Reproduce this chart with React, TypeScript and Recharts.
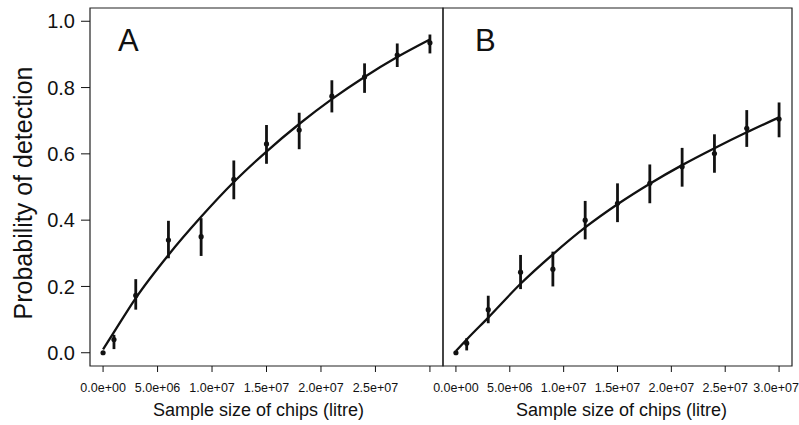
import React from 'react';
import {
  ComposedChart,
  Line,
  Scatter,
  ErrorBar,
  XAxis,
  YAxis,
  ReferenceArea,
} from 'recharts';

const sampleSizes = [0, 1e6, 3e6, 6e6, 9e6, 1.2e7, 1.5e7, 1.8e7, 2.1e7, 2.4e7, 2.7e7, 3e7];
const xTicks = [0, 5e6, 1e7, 1.5e7, 2e7, 2.5e7, 3e7];
const yTicks = [0, 0.2, 0.4, 0.6, 0.8, 1.0];

// panel A
const obsA = [0, 0.04, 0.173, 0.34, 0.35, 0.523, 0.63, 0.672, 0.774, 0.832, 0.898, 0.935];
const lowA = [0, 0.011, 0.13, 0.285, 0.292, 0.463, 0.57, 0.614, 0.725, 0.784, 0.862, 0.903];
const highA = [0, 0.054, 0.222, 0.398, 0.406, 0.58, 0.687, 0.724, 0.822, 0.873, 0.933, 0.96];
const fitA = [0.01, 0.062, 0.165, 0.295, 0.41, 0.515, 0.607, 0.69, 0.765, 0.832, 0.892, 0.945];

// panel B
const obsB = [0, 0.029, 0.13, 0.243, 0.252, 0.4, 0.451, 0.511, 0.561, 0.601, 0.677, 0.705];
const lowB = [0, 0.007, 0.089, 0.192, 0.2, 0.342, 0.394, 0.451, 0.501, 0.543, 0.621, 0.65];
const highB = [0, 0.044, 0.172, 0.295, 0.305, 0.458, 0.511, 0.568, 0.618, 0.659, 0.732, 0.755];
const fitB = [0.005, 0.04, 0.106, 0.208, 0.297, 0.378, 0.448, 0.51, 0.566, 0.617, 0.665, 0.71];

const X_DOMAIN: [number, number] = [-1.2e6, 3.12e7];
const Y_DOMAIN: [number, number] = [-0.04, 1.04];
const INK = '#111';
const FONT = '"Liberation Sans", Arial, sans-serif';

const buildPoints = (obs: number[], low: number[], high: number[]) =>
  sampleSizes.map((x, i) => ({ x, obs: obs[i], err: [obs[i] - low[i], high[i] - obs[i]] }));

const buildCurve = (fit: number[]) => sampleSizes.map((x, i) => ({ x, fit: fit[i] }));

const sciFormat = (v: number) => {
  const [m, e] = v.toExponential(1).split('e');
  return `${m}e${e[0]}${e.slice(1).padStart(2, '0')}`;
};

const Dot = (p: any) => <circle cx={p.cx} cy={p.cy} r={2.6} fill={INK} />;

const makeXTick = (hideLast: boolean) => (p: any) => {
  const v = p.payload.value;
  if (hideLast && v === 3e7) return <g />;
  const shift = v === 3e7 ? -3 : 0;
  return (
    <text
      x={p.x + shift}
      y={392}
      textAnchor="middle"
      fontSize={12.5}
      fill={INK}
      fontFamily={FONT}
    >
      {sciFormat(v)}
    </text>
  );
};

interface PanelProps {
  letter: string;
  obs: number[];
  low: number[];
  high: number[];
  fit: number[];
  width: number;
  left: number;
  marginLeft: number;
  marginRight: number;
  showY: boolean;
  hideLastX: boolean;
  titleShift: number;
}

const Panel: React.FC<PanelProps> = ({
  letter, obs, low, high, fit, width, left, marginLeft, marginRight, showY, hideLastX, titleShift,
}) => {
  const points = buildPoints(obs, low, high);
  const curve = buildCurve(fit);
  return (
    <div style={{ position: 'absolute', left, top: 0 }}>
      <ComposedChart
        width={width}
        height={425}
        margin={{ top: 8, right: marginRight, bottom: 0, left: marginLeft }}
      >
        <XAxis
          dataKey="x"
          type="number"
          domain={X_DOMAIN}
          allowDataOverflow
          ticks={xTicks}
          interval={0}
          height={59}
          tickSize={6}
          tickMargin={10}
          axisLine={false}
          tickLine={{ stroke: INK }}
          tick={makeXTick(hideLastX)}
          label={(props: any) => {
            const vb = props.viewBox;
            return (
              <text
                x={vb.x + vb.width / 2 + titleShift}
                y={416}
                textAnchor="middle"
                fontSize={18}
                fill={INK}
                fontFamily={FONT}
              >
                Sample size of chips (litre)
              </text>
            );
          }}
        />
        <YAxis
          type="number"
          domain={Y_DOMAIN}
          allowDataOverflow
          ticks={yTicks}
          hide={!showY}
          width={showY ? 90 : 0}
          tickSize={9}
          tickMargin={6}
          axisLine={false}
          tickLine={{ stroke: INK }}
          tick={{ fontSize: 20, fill: INK, fontFamily: FONT }}
          tickFormatter={(v: number) => v.toFixed(1)}
          label={
            showY
              ? () => (
                  <text
                    x={23}
                    y={193}
                    transform="rotate(-90 23 193)"
                    textAnchor="middle"
                    dominantBaseline="central"
                    fontSize={25}
                    fill={INK}
                    fontFamily={FONT}
                  >
                    Probability of detection
                  </text>
                )
              : undefined
          }
        />
        <ReferenceArea
          x1={X_DOMAIN[0]}
          x2={X_DOMAIN[1]}
          y1={Y_DOMAIN[0]}
          y2={Y_DOMAIN[1]}
          fill="none"
          stroke="#222"
          strokeWidth={1.2}
          label={(props: any) => {
            const vb = props.viewBox;
            return (
              <text
                x={vb.x + (showY ? 28 : 32)}
                y={vb.y + 43}
                fontSize={31}
                fill={INK}
                fontFamily={FONT}
              >
                {letter}
              </text>
            );
          }}
        />
        <Line
          data={curve}
          dataKey="fit"
          type="monotone"
          stroke={INK}
          strokeWidth={2.3}
          dot={false}
          activeDot={false}
          isAnimationActive={false}
        />
        <Scatter data={points} dataKey="obs" shape={Dot} isAnimationActive={false}>
          <ErrorBar dataKey="err" direction="y" width={0} stroke={INK} strokeWidth={2.8} />
        </Scatter>
      </ComposedChart>
    </div>
  );
};

export default function App() {
  return (
    <div style={{ position: 'absolute', left: 0, top: 0, width: 799, height: 425, background: '#fff' }}>
      <Panel
        letter="A"
        obs={obsA}
        low={lowA}
        high={highA}
        fit={fitA}
        width={445}
        left={0}
        marginLeft={0}
        marginRight={2}
        showY
        hideLastX
        titleShift={-8}
      />
      <Panel
        letter="B"
        obs={obsB}
        low={lowB}
        high={highB}
        fit={fitB}
        width={379}
        left={420}
        marginLeft={23}
        marginRight={7}
        showY={false}
        hideLastX={false}
        titleShift={4}
      />
    </div>
  );
}
